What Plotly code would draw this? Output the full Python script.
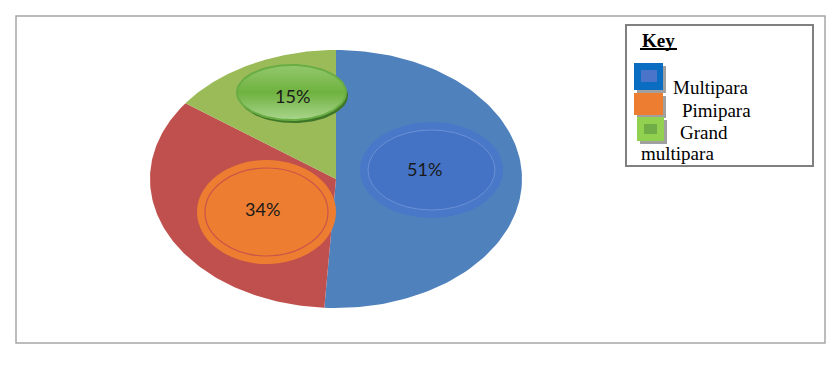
import numpy as np
import plotly.graph_objects as go

# ---- data ----
categories = ["Multipara", "Pimipara", "Grand multipara"]
values = [51, 34, 15]
slice_colors = ["#4F81BD", "#C0504D", "#9BBB59"]
legend_labels = ["Multipara", " Pimipara", "Grand", "multipara"]

W, H = 834, 366
fig = go.Figure()

# ---- pie slices drawn on a unit-circle axis (x/y); axis domains squash it to an ellipse ----
total = sum(values)
start = 0.0
for cat, v, col in zip(categories, values, slice_colors):
    end = start + v / total * 2 * np.pi
    th = np.linspace(start, end, 120)
    xs = np.concatenate([[0], np.sin(th), [0]])
    ys = np.concatenate([[0], np.cos(th), [0]])
    fig.add_trace(go.Scatter(x=xs, y=ys, mode="lines",
                             fill="toself", fillcolor=col, line=dict(width=0, color=col),
                             name=cat, hoverinfo="name", showlegend=False))
    start = end

# green label badge with a vertical gradient (decoration, pixel axis x2/y2)
def ellipse_pts(x0, y0, x1, y1, n=90):
    t = np.linspace(0, 2 * np.pi, n)
    cx, cy, rx, ry = (x0 + x1) / 2, (y0 + y1) / 2, (x1 - x0) / 2, (y1 - y0) / 2
    return cx + rx * np.cos(t), cy + ry * np.sin(t)

sx, sy = ellipse_pts(239, 68, 348, 123)
fig.add_trace(go.Scatter(x=sx, y=sy, xaxis="x2", yaxis="y2", mode="lines", fill="toself",
                         fillcolor="#3E7526", line=dict(width=0), hoverinfo="skip", showlegend=False))
gx, gy = ellipse_pts(237, 65, 346, 120)
fig.add_trace(go.Scatter(x=gx, y=gy, xaxis="x2", yaxis="y2", mode="lines", fill="toself",
                         fillgradient=dict(type="vertical",
                                           colorscale=[[0, "#A9D58C"], [0.5, "#6FB240"], [1, "#93C86C"]]),
                         line=dict(width=2, color="#69AD44"), hoverinfo="skip", showlegend=False))

fig.update_layout(
    width=W, height=H, margin=dict(l=0, r=0, t=0, b=0),
    paper_bgcolor="white", plot_bgcolor="rgba(0,0,0,0)",
    xaxis=dict(range=[-1, 1], domain=[150 / W, 522 / W], visible=False, anchor="y"),
    yaxis=dict(range=[-1, 1], domain=[(H - 308) / H, (H - 50) / H], visible=False, anchor="x"),
    xaxis2=dict(range=[0, W], domain=[0, 1], visible=False, anchor="y2"),
    yaxis2=dict(range=[H, 0], domain=[0, 1], visible=False, anchor="x2"),
    showlegend=False,
)

shapes = []
def ell(x0, y0, x1, y1, fill, line_color=None, lw=0):
    shapes.append(dict(type="circle", xref="x2", yref="y2", x0=x0, y0=y0, x1=x1, y1=y1,
                       fillcolor=fill, line=dict(color=line_color or fill, width=lw)))
def rect(x0, y0, x1, y1, fill, line_color=None, lw=0):
    shapes.append(dict(type="rect", xref="x2", yref="y2", x0=x0, y0=y0, x1=x1, y1=y1,
                       fillcolor=fill, line=dict(color=line_color or fill, width=lw)))

# outer frame
shapes.append(dict(type="rect", xref="x2", yref="y2", x0=16, y0=16, x1=825, y1=343,
                   line=dict(color="#a6a6a6", width=1.5), fillcolor="rgba(0,0,0,0)"))

# badges
ell(360, 122, 503, 218, "#4A78C8")
ell(368, 130, 495, 210, "#4472C4", "#6A90D6", 1)
ell(197, 160, 336, 264, "#ED7D31")
ell(205, 168, 328, 256, "#ED7D31", "#C8554A", 1.2)

# key box
rect(626, 25, 813, 166, "white", "#808080", 2)
shapes.append(dict(type="line", xref="x2", yref="y2", x0=640, y0=49, x1=677, y1=49,
                   line=dict(color="black", width=2)))
# legend swatches
rect(637, 66, 666, 93, "#A0A0A0")
rect(634, 63, 663, 90, "#0A6DC2")
rect(641, 70, 657, 82, "#4A74C9")
rect(637, 96, 666, 118, "#A0A0A0")
rect(634, 93, 663, 115, "#ED7D31")
rect(640, 120, 667, 144, "#A0A0A0")
rect(637, 117, 664, 141, "#92D050")
rect(644, 124, 657, 134, "#70AD47")
fig.update_layout(shapes=shapes)

ann = []
label_pos = [(424, 169), (262, 209), (292, 96)]
for v, (px, py) in zip(values, label_pos):
    ann.append(dict(x=px, y=py, xref="x2", yref="y2", text=f"{v}%", showarrow=False,
                    font=dict(family="Lato", size=18, color="#1a1a1a"),
                    xanchor="center", yanchor="middle"))

serif = "Liberation Serif"
ann.append(dict(x=640, y=40, xref="x2", yref="y2", text="<b>Key</b>", showarrow=False,
                font=dict(family=serif, size=19, color="black"), xanchor="left", yanchor="middle"))
leg_pos = [(671, 87), (680, 110), (678, 132), (639, 153)]
for t, (px, py) in zip(legend_labels, leg_pos):
    ann.append(dict(x=px, y=py, xref="x2", yref="y2", text=t.strip(), showarrow=False,
                    font=dict(family=serif, size=19, color="black"), xanchor="left", yanchor="middle"))
fig.update_layout(annotations=ann)

fig.write_html("out.html", config={"displayModeBar": False, "staticPlot": True},
               post_script="document.body.style.margin='0';document.body.style.overflow='hidden';")
